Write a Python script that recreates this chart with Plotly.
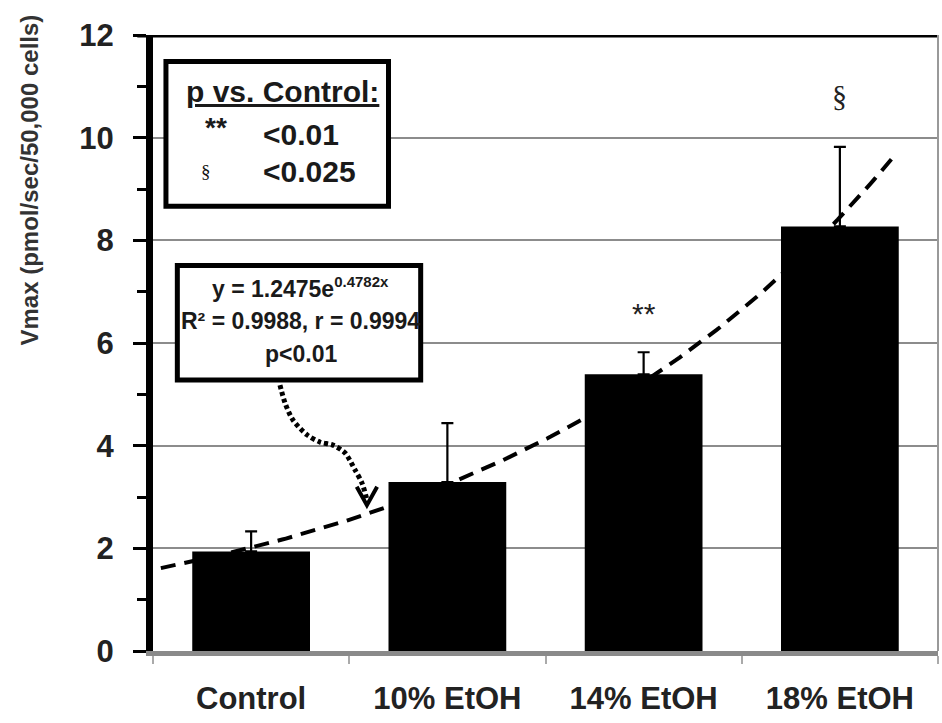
import numpy as np
import plotly.graph_objects as go

# Vmax per treatment group, with upper error (SEM)
categories = ["Control", "10% EtOH", "14% EtOH", "18% EtOH"]
vmax = [1.94, 3.29, 5.39, 8.27]
vmax_err = [0.39, 1.15, 0.43, 1.55]
significance = ["", "", "**", "§"]

# exponential trend fitted over group index (1..4)
fit_a = 1.2475
fit_b = 0.4782
fit_x_range = [0.54, 4.27]

y_ticks = [0, 2, 4, 6, 8, 10, 12]

# dotted pointer from the equation box towards the curve (last point = tip)
pointer_x = [1.147, 1.173, 1.213, 1.285, 1.351, 1.417, 1.478, 1.529, 1.565, 1.590]
pointer_y = [5.18, 4.83, 4.50, 4.21, 4.07, 4.01, 3.86, 3.53, 3.27, 2.95]

FONT = "Liberation Sans"
x_idx = np.arange(1, len(categories) + 1)


def bold(size, color="#1a1a1a", family=FONT):
    return dict(family=family, size=size, color=color, weight="bold")


fig = go.Figure()

fig.add_trace(go.Bar(
    x=x_idx, y=vmax, width=0.6,
    marker=dict(color="black", line=dict(width=0)),
    error_y=dict(type="data", array=vmax_err, arrayminus=[0] * len(vmax),
                 symmetric=False, color="black", thickness=2.2, width=6),
    showlegend=False,
))

fx = np.linspace(fit_x_range[0], fit_x_range[1], 200)
fig.add_trace(go.Scatter(
    x=fx, y=fit_a * np.exp(fit_b * fx), mode="lines",
    line=dict(color="black", width=4, dash="15px,9px"),
    showlegend=False, hoverinfo="skip",
))

fig.add_trace(go.Scatter(
    x=pointer_x, y=pointer_y, mode="lines",
    line=dict(color="black", width=5, dash="4px,3px", shape="spline", smoothing=0.8),
    showlegend=False, hoverinfo="skip",
))

# open V arrowhead at the pointer tip
tip_x, tip_y = pointer_x[-1], pointer_y[-1] - 0.11
head_dx, head_dy = 0.052, 0.36
fig.add_shape(type="path", xref="x", yref="y",
              path=(f"M {tip_x - head_dx},{tip_y + head_dy} L {tip_x},{tip_y} "
                    f"L {tip_x + head_dx},{tip_y + head_dy}"),
              line=dict(color="black", width=4), layer="above")

# significance markers above the error bars
marker_shift = {"**": 39, "§": 51}
for xi, v, e, s in zip(x_idx, vmax, vmax_err, significance):
    if not s:
        continue
    fam = FONT if s == "**" else "Liberation Serif"
    fig.add_annotation(x=xi, y=v + e, yshift=marker_shift[s], text=s,
                       showarrow=False, xanchor="center", yanchor="middle",
                       font=dict(family=fam, size=30, color="#222"))

# p-value key box
fig.add_shape(type="rect", xref="paper", yref="paper",
              x0=0.0165, x1=0.300, y0=0.722, y1=0.957,
              line=dict(color="black", width=5), fillcolor="white", layer="above")
key_items = [
    ("<u>p vs. Control:</u>", 0.040, 0.909, bold(30)),
    ("**", 0.064, 0.850, bold(28)),
    ("<0.01", 0.137, 0.838, bold(30)),
    ("§", 0.058, 0.778, dict(family="Liberation Serif", size=19, color="#111")),
    ("<0.025", 0.137, 0.778, bold(30)),
]
for txt, kx, ky, kf in key_items:
    fig.add_annotation(xref="paper", yref="paper", x=kx, y=ky,
                       xanchor="left", yanchor="middle",
                       text=txt, showarrow=False, font=kf)

# fit equation box
fig.add_shape(type="rect", xref="paper", yref="paper",
              x0=0.031, x1=0.341, y0=0.440, y1=0.626,
              line=dict(color="black", width=5), fillcolor="white", layer="above")
eq_lines = [
    f"y = {fit_a}e<sup><span style='font-size:15px'>{fit_b}x</span></sup>",
    "R² = 0.9988, r = 0.9994",
    "p<0.01",
]
for i, line in enumerate(eq_lines):
    fig.add_annotation(xref="paper", yref="paper", x=0.188, y=0.590 - i * 0.054,
                       xanchor="center", yanchor="middle",
                       text=line, showarrow=False, font=bold(23))

# y-axis title, set high along the axis
fig.add_annotation(xref="paper", yref="paper", x=-0.157, y=0.765,
                   xanchor="center", yanchor="middle", textangle=-90,
                   text="Vmax (pmol/sec/50,000 cells)", showarrow=False,
                   font=bold(24, "#333"))

# heavy top frame and light right edge
fig.add_shape(type="line", xref="paper", yref="y", x0=-0.02, x1=1.0, y0=12, y1=12,
              line=dict(color="black", width=5), layer="above")
fig.add_shape(type="line", xref="paper", yref="paper", x0=1.0, x1=1.0, y0=0, y1=1,
              line=dict(color="#999", width=2), layer="above")

fig.update_layout(
    width=942, height=723,
    margin=dict(l=153, r=4, t=35, b=72),
    paper_bgcolor="white", plot_bgcolor="white",
    font=dict(family=FONT, color="#222"),
    bargap=0.4,
)
fig.update_xaxes(
    range=[0.5, 4.5], tickvals=list(x_idx), ticktext=categories,
    ticks="", showline=True, linecolor="#8a8a8a", linewidth=5,
    showgrid=False, zeroline=False,
    tickfont=bold(31, "#222"),
    ticklabelstandoff=16,
    minor=dict(tick0=0.5, dtick=1, ticks="outside", ticklen=8, tickwidth=2,
               tickcolor="#aaa", showgrid=False),
)
fig.update_yaxes(
    range=[0, 12], tickvals=y_ticks, ticks="outside", ticklen=13, tickwidth=3,
    tickcolor="black", showline=True, linecolor="black", linewidth=7,
    showgrid=True, gridcolor="#8c8c8c", gridwidth=2, zeroline=False,
    tickfont=bold(31, "#222"),
    ticklabelstandoff=13,
    minor=dict(tick0=1, dtick=2, ticks="outside", ticklen=9, tickwidth=3,
               tickcolor="black", showgrid=False),
)

fig.write_html("out.html")
